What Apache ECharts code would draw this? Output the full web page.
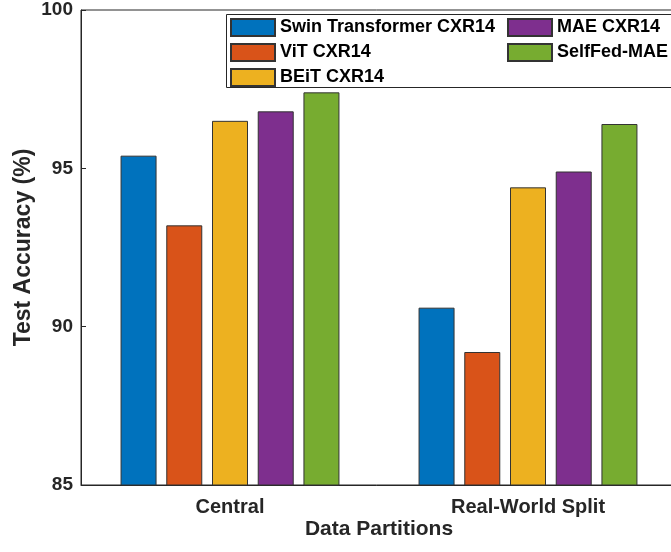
<!DOCTYPE html>
<html>
<head>
<meta charset="utf-8">
<script src="https://cdn.jsdelivr.net/npm/echarts@6/dist/echarts.min.js"></script>
<style>
  html, body { margin: 0; padding: 0; background: #fff; }
  #main { width: 671px; height: 552px; }
</style>
</head>
<body>
<div id="main"></div>
<script>
var myChart = echarts.init(document.getElementById('main'));

var categories = ['Central', 'Real-World Split'];
var seriesNames = ['Swin Transformer CXR14', 'ViT CXR14', 'BEiT CXR14', 'MAE CXR14', 'SelfFed-MAE'];
var swinData = [95.4, 90.6];
var vitData = [93.2, 89.2];
var beitData = [96.5, 94.4];
var maeData = [96.8, 94.9];
var selffedData = [97.4, 96.4];
var yTicks = [85, 90, 95, 100];

var color = ['#0072BD', '#D95319', '#EDB120', '#7E2F8E', '#77AC30'];
var allData = [swinData, vitData, beitData, maeData, selffedData];
var font = '"Liberation Sans", Arial, sans-serif';
var axisColor = '#262626';

var series = [];
allData.forEach(function (d, i) {
    series.push({
        name: seriesNames[i],
        type: 'bar',
        data: d,
        barWidth: 36,
        barGap: '27%',
        itemStyle: {
            color: color[i],
            borderColor: '#333333',
            borderWidth: 1
        }
    });
});

var legendText = {
    fontFamily: font,
    fontWeight: 'bold',
    fontSize: 18,
    color: '#000'
};

option = {
    backgroundColor: '#ffffff',
    animation: false,
    color: color,
    grid: {
        left: 81,
        width: 596,
        top: 10,
        bottom: 67,
        outerBoundsMode: 'none',
        containLabel: false,
        show: true,
        borderColor: axisColor,
        borderWidth: 1
    },
    graphic: [{
        type: 'rect',
        shape: { x: 226.5, y: 14.5, width: 445, height: 73 },
        style: { fill: '#fff', stroke: axisColor, lineWidth: 1 },
        z: 10
    }],
    legend: [{
        orient: 'vertical',
        left: 230,
        top: 18,
        padding: 0,
        icon: 'rect',
        itemWidth: 44,
        itemHeight: 17,
        itemGap: 6,
        data: seriesNames.slice(0, 3),
        textStyle: legendText,
        z: 20
    }, {
        orient: 'vertical',
        left: 507,
        top: 18,
        padding: 0,
        icon: 'rect',
        itemWidth: 44,
        itemHeight: 17,
        itemGap: 6,
        data: seriesNames.slice(3),
        textStyle: legendText,
        z: 20
    }],
    xAxis: {
        type: 'category',
        data: categories,
        name: 'Data Partitions',
        nameLocation: 'middle',
        nameGap: 34,
        nameMoveOverlap: false,
        nameTextStyle: {
            fontFamily: font,
            fontWeight: 'bold',
            fontSize: 21,
            color: axisColor
        },
        axisLine: { lineStyle: { color: axisColor } },
        axisTick: { inside: true, alignWithLabel: true, length: 5, lineStyle: { color: axisColor } },
        axisLabel: {
            fontFamily: font,
            fontWeight: 'bold',
            fontSize: 20,
            color: axisColor,
            margin: 12
        }
    },
    yAxis: {
        type: 'value',
        min: yTicks[0],
        max: yTicks[yTicks.length - 1],
        interval: 5,
        name: 'Test Accuracy (%)',
        nameLocation: 'middle',
        nameGap: 46,
        nameMoveOverlap: false,
        nameTextStyle: {
            fontFamily: font,
            fontWeight: 'bold',
            fontSize: 23,
            color: axisColor
        },
        axisLine: { show: true, lineStyle: { color: axisColor } },
        axisTick: { show: true, inside: true, length: 5, lineStyle: { color: axisColor } },
        splitLine: { show: false },
        axisLabel: {
            fontFamily: font,
            fontWeight: 'bold',
            fontSize: 19,
            color: axisColor,
            margin: 8
        }
    },
    series: series
};

myChart.setOption(option);
</script>
</body>
</html>
